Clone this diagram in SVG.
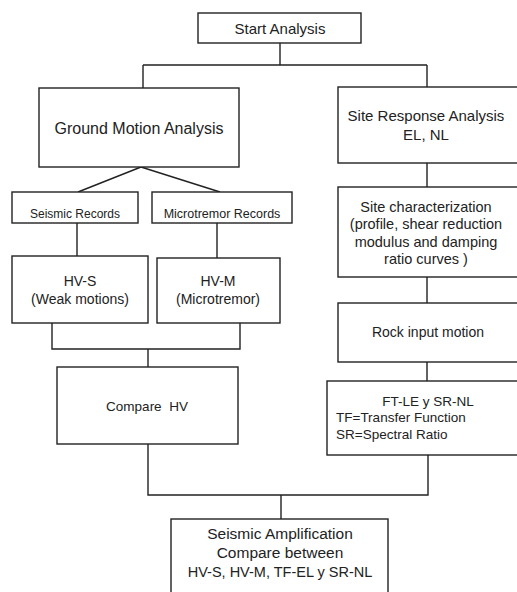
<svg xmlns="http://www.w3.org/2000/svg" width="517" height="592" viewBox="0 0 517 592">
<style>
.box{fill:#fff;stroke:#222;stroke-width:1.4}
.ln{fill:none;stroke:#222;stroke-width:1.4}
text{font-family:"Liberation Sans",Arial,sans-serif;fill:#222;text-anchor:middle}
.l{text-anchor:start}
</style>
<rect width="517" height="592" fill="#fff"/>
<g id="connectors">
<path class="ln" d="M280,43 V65 M143,65 H427 M143,65 V88 M427,65 V87"/>
<path class="ln" d="M141,167 L78,192 M141,167 L220,192"/>
<path class="ln" d="M77,223 V256 M217,223 V258"/>
<path class="ln" d="M52,323 V349 H240 V323 M148,349 V367"/>
<path class="ln" d="M427,163 V187 M427,277 V303 M427,362 V381"/>
<path class="ln" d="M148,444 V495 H428 V455 M281,495 V519"/>
</g>
<g id="start">
<rect class="box" x="198" y="13" width="163" height="30"/>
<text x="280" y="34" font-size="15">Start Analysis</text>
</g>
<g id="ground-motion">
<rect class="box" x="39" y="88" width="200" height="79"/>
<text x="139" y="134" font-size="16">Ground Motion Analysis</text>
</g>
<g id="site-response">
<rect class="box" x="338" y="87" width="182" height="76"/>
<text x="426" y="121" font-size="15">Site Response Analysis</text>
<text x="426" y="140" font-size="15">EL, NL</text>
</g>
<g id="seismic-records">
<rect class="box" x="12" y="192" width="126" height="31"/>
<text x="75" y="218" font-size="12">Seismic Records</text>
</g>
<g id="microtremor-records">
<rect class="box" x="152" y="192" width="140" height="31"/>
<text x="222" y="218" font-size="12.5">Microtremor Records</text>
</g>
<g id="hv-s">
<rect class="box" x="12" y="256" width="136" height="67"/>
<text x="80" y="286" font-size="14">HV-S</text>
<text x="80" y="304" font-size="14">(Weak motions)</text>
</g>
<g id="hv-m">
<rect class="box" x="157" y="258" width="123" height="65"/>
<text x="218" y="286" font-size="14">HV-M</text>
<text x="218" y="304" font-size="14">(Microtremor)</text>
</g>
<g id="compare-hv">
<rect class="box" x="57" y="367" width="181" height="77"/>
<text x="147" y="411" font-size="13.5" xml:space="preserve">Compare  HV</text>
</g>
<g id="site-char">
<rect class="box" x="338" y="187" width="182" height="90"/>
<text x="426" y="212" font-size="14.5">Site characterization</text>
<text x="426" y="229" font-size="14.5">(profile, shear reduction</text>
<text x="426" y="247" font-size="14.5">modulus and damping</text>
<text x="426" y="264" font-size="14.5">ratio curves )</text>
</g>
<g id="rock-input">
<rect class="box" x="338" y="303" width="182" height="59"/>
<text x="428" y="337" font-size="14">Rock input motion</text>
</g>
<g id="ft-le">
<rect class="box" x="327" y="381" width="193" height="74"/>
<text x="428" y="406" font-size="13.5">FT-LE y SR-NL</text>
<text class="l" x="336" y="422" font-size="13.5">TF=Transfer Function</text>
<text class="l" x="336" y="439" font-size="13.5">SR=Spectral Ratio</text>
</g>
<g id="seismic-amplification">
<rect class="box" x="171" y="519" width="217" height="80"/>
<text x="280" y="539" font-size="15.5">Seismic Amplification</text>
<text x="280" y="558" font-size="15.5">Compare between</text>
<text x="280" y="577" font-size="14.5">HV-S, HV-M, TF-EL y SR-NL</text>
</g>
</svg>
